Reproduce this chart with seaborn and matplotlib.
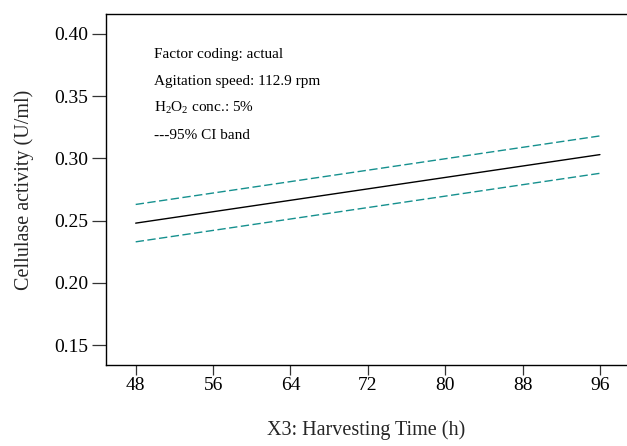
import matplotlib
matplotlib.use("Agg")
import matplotlib.pyplot as plt
import seaborn as sns
import pandas as pd

# data
x_time = [48, 96]
mean_vals = [0.248, 0.303]
upper_vals = [0.263, 0.318]
lower_vals = [0.233, 0.288]
xticks = [48, 56, 64, 72, 80, 88, 96]
yticks = [0.15, 0.20, 0.25, 0.30, 0.35, 0.40]
notes = ["Factor coding: actual", "Agitation speed: 112.9 rpm",
         "H$_2$O$_2$ conc.: 5%", "---95% CI band"]

sns.set_style("white")
plt.rcParams['font.family'] = ['Liberation Serif', 'DejaVu Serif']
plt.rcParams['mathtext.fontset'] = 'custom'
plt.rcParams['mathtext.rm'] = 'Liberation Serif'
plt.rcParams['mathtext.it'] = 'Liberation Serif:italic'

df = pd.DataFrame({"x": x_time, "mean": mean_vals, "upper": upper_vals, "lower": lower_vals})

fig = plt.figure(figsize=(6.27, 4.46), dpi=100)
ax = fig.add_axes([106/627, 1 - 364.7/446, 1 - 106/627, (364.7 - 14.3)/446])

teal = "#15908e"
sns.lineplot(data=df, x="x", y="upper", ax=ax, color=teal, lw=1.0, dashes=False, linestyle=(0, (6, 2.5)))
sns.lineplot(data=df, x="x", y="lower", ax=ax, color=teal, lw=1.0, dashes=False, linestyle=(0, (6, 2.5)))
sns.lineplot(data=df, x="x", y="mean", ax=ax, color="black", lw=1.0)

ax.set_xlim(44.93, 98.8)
ax.set_ylim(0.1344, 0.4156)
ax.set_xticks(xticks)
ax.set_xticklabels([str(t) for t in xticks])
ax.set_yticks(yticks)
ax.set_yticklabels([f"{t:.2f}" for t in yticks])

for s in ["left", "bottom", "top"]:
    ax.spines[s].set_color("black")
    ax.spines[s].set_linewidth(1.0)
ax.spines["right"].set_visible(False)

ax.tick_params(axis="y", which="major", direction="out", length=10, width=0.9, pad=3,
               labelsize=14, color="#333333", labelcolor="black", left=True)
ax.tick_params(axis="x", which="major", direction="out", length=7.5, width=0.9, pad=1.5,
               labelsize=14, color="#333333", labelcolor="black", bottom=True)

ax.set_xlabel("X3: Harvesting Time (h)", fontsize=14.5, labelpad=19)
ax.set_ylabel("Cellulase activity (U/ml)", fontsize=14.5, labelpad=14)

for i, t in enumerate(notes):
    ax.text(0.092, 0.884 - i * 0.0762, t, transform=ax.transAxes, fontsize=11,
            va="center", ha="left", color="black")

fig.savefig("out.png", dpi=100)
